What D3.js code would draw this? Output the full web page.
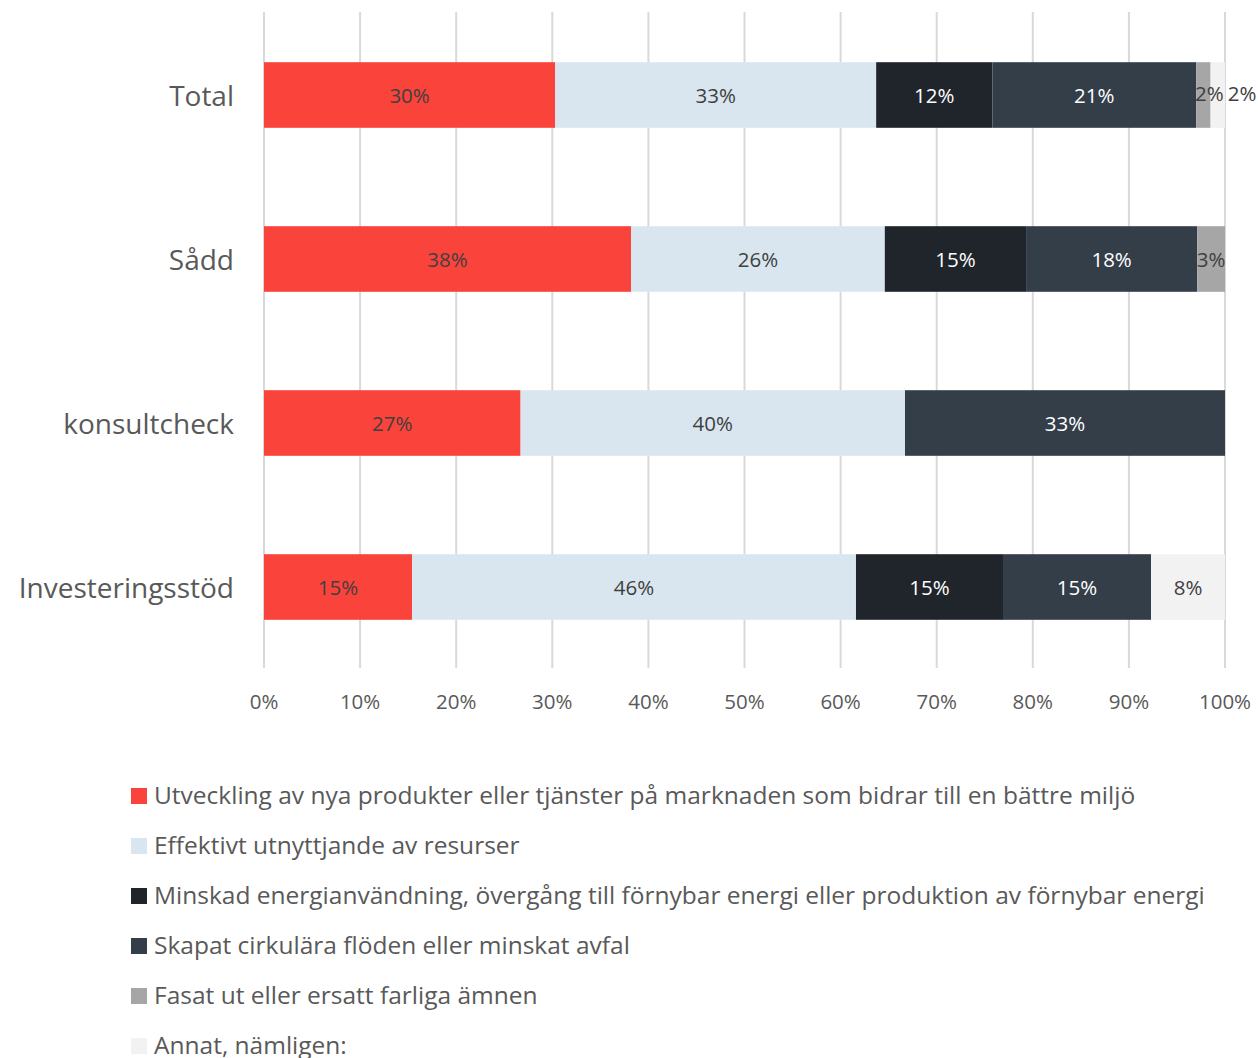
<!DOCTYPE html>
<html><head><meta charset="utf-8">
<script src="https://cdn.jsdelivr.net/npm/d3@7"></script>
<style>body{margin:0;background:#fff}svg{display:block}text{font-family:"Open Sans",sans-serif}</style>
</head><body><svg id="c" width="1258" height="1058"></svg>
<script>
const categories = ["Total", "Sådd", "konsultcheck", "Investeringsstöd"];
const seriesNames = [
  "Utveckling av nya produkter eller tjänster på marknaden som bidrar till en bättre miljö",
  "Effektivt utnyttjande av resurser",
  "Minskad energianvändning, övergång till förnybar energi eller produktion av förnybar energi",
  "Skapat cirkulära flöden eller minskat avfal",
  "Fasat ut eller ersatt farliga ämnen",
  "Annat, nämligen:"
];
const utveckling = [30.3, 38.2, 26.7, 15.4];
const effektivt  = [33.4, 26.4, 40.0, 46.2];
const energi     = [12.1, 14.7, 0, 15.3];
const cirkulara  = [21.2, 17.8, 33.3, 15.4];
const farliga    = [1.5, 2.9, 0, 0];
const annat      = [1.5, 0, 0, 7.7];
const tickValues = [0,10,20,30,40,50,60,70,80,90,100];

const series = [utveckling, effektivt, energi, cirkulara, farliga, annat];
const colors = ["#FA433A", "#D9E6EF", "#1F252B", "#343E49", "#A6A6A6", "#F2F2F2"];
const labelColors = ["#404040", "#404040", "#ffffff", "#ffffff", "#404040", "#404040"];

const svg = d3.select("#c");
const x = d3.scaleLinear().domain([0,100]).range([264,1225]);
const y = d3.scaleBand().domain(categories).range([13,669]).paddingInner(0.6).paddingOuter(0.3);

// gridlines
svg.append("g").selectAll("line").data(tickValues).join("line")
  .attr("x1", d=>x(d)).attr("x2", d=>x(d)).attr("y1", 12).attr("y2", 668)
  .attr("stroke", "#D9D9D9").attr("stroke-width", 2);

// tick labels
svg.append("g").selectAll("text").data(tickValues).join("text")
  .attr("x", d=>x(d)).attr("y", 701).attr("dy","0.38em").attr("text-anchor","middle")
  .attr("font-size", 20.5).attr("fill", "#595959").text(d=>d+"%");

// category labels
svg.append("g").selectAll("text").data(categories).join("text")
  .attr("x", 234).attr("y", d=>y(d)+y.bandwidth()/2).attr("dy","0.38em").attr("text-anchor","end")
  .attr("font-size", 28).attr("fill", "#595959").text(d=>d);

// bars
const rows = categories.map((c,i)=>{
  let acc = 0;
  return series.map((s,k)=>{ const v=s[i]; const o={cat:c,k,v,x0:acc,x1:acc+v}; acc+=v; return o; });
});
const gBars = svg.append("g");
rows.forEach(r=>{
  gBars.selectAll(null).data(r.filter(d=>d.v>0)).join("rect")
    .attr("x", d=>x(d.x0)).attr("width", d=>x(d.x1)-x(d.x0))
    .attr("y", d=>y(d.cat)).attr("height", y.bandwidth())
    .attr("fill", d=>colors[d.k]);
});
// labels with simple collision nudging (pairs of tiny segments pushed apart)
const gLab = svg.append("g");
rows.forEach(r=>{
  const items = r.filter(d=>d.v>0).map(d=>{
    const t = gLab.append("text")
      .attr("y", y(d.cat)+y.bandwidth()/2).attr("dy","0.4em")
      .attr("font-size", 20.5).attr("fill", labelColors[d.k]).attr("text-anchor","start")
      .text(Math.round(d.v)+"%");
    const w = t.node().getComputedTextLength();
    return {t, w, cx:(x(d.x0)+x(d.x1))/2, small: (x(d.x1)-x(d.x0)) < w};
  });
  let prevEnd = -Infinity;
  items.forEach((it,i)=>{
    let left = it.cx - it.w/2;
    const pairFirst = it.small && items[i+1] && items[i+1].small;
    const pairSecond = it.small && i>0 && items[i-1].small;
    if (pairFirst) left = x(100) - 30;
    if (left < prevEnd + 4) left = prevEnd + 4;
    if (left + it.w > 1257) left = 1257 - it.w;
    if (pairFirst || pairSecond) it.t.attr("dy","0.3em");
    it.t.attr("x", left);
    prevEnd = left + it.w;
  });
});

// legend
const lg = svg.append("g").selectAll("g").data(seriesNames).join("g")
  .attr("transform", (d,i)=>`translate(131,${796+i*50})`);
lg.append("rect").attr("x",0).attr("y",-8).attr("width",16).attr("height",16).attr("fill",(d,i)=>colors[i]);
lg.append("text").attr("x",23).attr("y",0).attr("dy","0.34em").attr("font-size",24.5).attr("fill","#595959").text(d=>d);
</script></body></html>
